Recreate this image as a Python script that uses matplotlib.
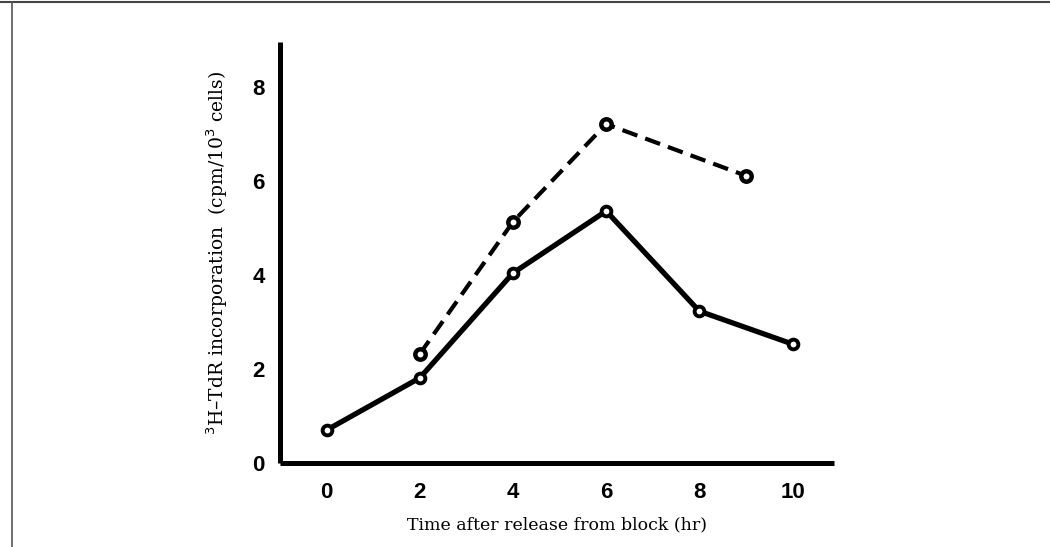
import matplotlib
matplotlib.use("Agg")
import matplotlib.pyplot as plt
from matplotlib.lines import Line2D

# solid curve
hours_solid = [0, 2, 4, 6, 8, 10]
cpm_solid = [0.70, 1.81, 4.04, 5.36, 3.23, 2.53]
# dashed curve
hours_dash = [2, 4, 6, 9]
cpm_dash = [2.32, 5.13, 7.21, 6.11]

xticks = [0, 2, 4, 6, 8, 10]
yticks = [0, 2, 4, 6, 8]

fig = plt.figure(figsize=(10.5, 5.47), dpi=100)
ax = fig.add_axes([0.2667, 0.1536, 0.528, 0.77])

ax.plot(hours_solid, cpm_solid, "-", color="black", lw=3.8, marker="o",
        ms=7, mfc="white", mec="black", mew=2.8, solid_joinstyle="round", zorder=3)
ax.plot(hours_dash, cpm_dash, "--", color="black", lw=3.0, dashes=(3.8, 2.0),
        marker="o", ms=7.5, mfc="white", mec="black", mew=3.2, zorder=3)

ax.set_xlim(-1.0, 10.9)
ax.set_ylim(0, 8.96)
ax.set_xticks(xticks)
ax.set_yticks(yticks)
ax.tick_params(length=0, pad=11)
ax.tick_params(axis="x", pad=14)
for lab in ax.get_xticklabels() + ax.get_yticklabels():
    lab.set_fontfamily("Liberation Sans")
    lab.set_fontweight("bold")
    lab.set_fontsize(16)

for s in ["top", "right"]:
    ax.spines[s].set_visible(False)
for s in ["left", "bottom"]:
    ax.spines[s].set_linewidth(3.6)
    ax.spines[s].set_capstyle("butt")

ax.set_xlabel("Time after release from block (hr)", fontfamily="DejaVu Serif",
              fontsize=12.5, labelpad=9)
ax.set_ylabel(r"$^{3}$H–TdR incorporation  (cpm/10$^{3}$ cells)",
              fontfamily="DejaVu Serif", fontsize=13.5, labelpad=16)

# scan frame lines
fig.add_artist(Line2D([0, 1], [0.996, 0.996], transform=fig.transFigure,
                      color="#444444", lw=1.5))
fig.add_artist(Line2D([0.011, 0.011], [0, 0.996], transform=fig.transFigure,
                      color="#555555", lw=1.2))

fig.savefig("out.png", dpi=100)
